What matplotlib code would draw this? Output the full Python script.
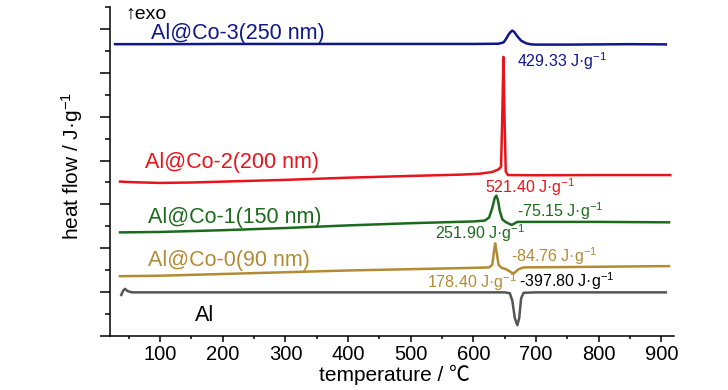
import matplotlib
matplotlib.use("Agg")
import matplotlib.pyplot as plt
from matplotlib.ticker import MultipleLocator

plt.rcParams['font.family'] = ['Liberation Sans', 'DejaVu Sans']
plt.rcParams['mathtext.fontset'] = 'custom'
plt.rcParams['mathtext.rm'] = 'Liberation Sans'
plt.rcParams['mathtext.it'] = 'Liberation Sans'
plt.rcParams['mathtext.default'] = 'regular'

# ---- data (temperature in degC, heat flow offset units) ----
t_co3 = [28, 100, 200, 300, 400, 500, 600, 640, 648, 652, 656, 660, 662, 665, 670, 676, 684, 692, 700, 750, 800, 850, 907]
y_co3 = [6.66, 6.66, 6.665, 6.665, 6.665, 6.665, 6.665, 6.67, 6.70, 6.78, 6.88, 6.95, 6.97, 6.94, 6.84, 6.74, 6.68, 6.655, 6.65, 6.65, 6.655, 6.66, 6.655]

t_co2 = [36, 60, 100, 150, 200, 300, 400, 500, 580, 610, 630, 640, 644, 646, 647.8, 649.5, 651.5, 655, 700, 800, 914]
y_co2 = [3.52, 3.505, 3.49, 3.50, 3.52, 3.56, 3.61, 3.65, 3.68, 3.70, 3.74, 3.80, 3.86, 5.0, 6.37, 5.0, 3.75, 3.67, 3.665, 3.67, 3.67]

t_co1 = [36, 100, 200, 300, 400, 500, 600, 618, 625, 630, 634, 636.5, 639, 642, 646, 650, 655, 661, 665, 670, 700, 800, 912]
y_co1 = [2.36, 2.37, 2.41, 2.46, 2.52, 2.57, 2.61, 2.63, 2.70, 2.92, 3.15, 3.20, 3.10, 2.85, 2.66, 2.61, 2.57, 2.53, 2.56, 2.60, 2.60, 2.60, 2.59]

t_co0 = [36, 100, 200, 300, 400, 500, 600, 625, 630, 633, 634.6, 636.5, 640, 645, 652, 660, 664, 672, 680, 800, 912]
y_co0 = [1.36, 1.37, 1.41, 1.45, 1.49, 1.52, 1.55, 1.56, 1.62, 1.95, 2.11, 1.95, 1.62, 1.55, 1.52, 1.45, 1.42, 1.52, 1.56, 1.575, 1.59]

t_al = [38, 41, 44, 48, 55, 100, 300, 500, 650, 658, 662, 666, 670, 673, 676, 680, 700, 907]
y_al = [0.93, 1.03, 1.07, 1.02, 0.99, 0.99, 0.99, 0.99, 0.99, 0.97, 0.80, 0.40, 0.24, 0.40, 0.85, 0.98, 0.99, 0.99]

series_names = ['Al@Co-3(250 nm)', 'Al@Co-2(200 nm)', 'Al@Co-1(150 nm)', 'Al@Co-0(90 nm)', 'Al']
enthalpy_texts = ['429.33 J·g$^{-1}$', '521.40 J·g$^{-1}$', '-75.15 J·g$^{-1}$', '251.90 J·g$^{-1}$',
                  '-84.76 J·g$^{-1}$', '178.40 J·g$^{-1}$', '-397.80 J·g$^{-1}$']
x_ticks = [100, 200, 300, 400, 500, 600, 700, 800, 900]

c_blue = '#10168c'
c_red = '#e8141b'
c_green = '#1c6b1c'
c_gold = '#b38b34'
c_grey = '#555555'

fig = plt.figure(figsize=(7.28, 3.9), dpi=100)
ax = fig.add_axes([110/728, 1-335.7/390, 564/728, (335.7-7.4)/390])

lw = 1.8
ax.plot(t_co3, y_co3, color=c_blue, lw=lw)
ax.plot(t_co2, y_co2, color=c_red, lw=lw)
ax.plot(t_co1, y_co1, color=c_green, lw=lw)
ax.plot(t_co0, y_co0, color=c_gold, lw=lw)
ax.plot(t_al, y_al, color=c_grey, lw=lw)

ax.set_xlim(20, 920)
ax.set_ylim(0, 7.5)
ax.xaxis.set_major_locator(MultipleLocator(100))
ax.xaxis.set_minor_locator(MultipleLocator(50))
ax.set_xticks(x_ticks)
ax.yaxis.set_major_locator(MultipleLocator(1))
ax.yaxis.set_minor_locator(MultipleLocator(0.5))
ax.set_yticklabels([])
for s in ['top', 'right']:
    ax.spines[s].set_visible(False)
for s in ['left', 'bottom']:
    ax.spines[s].set_linewidth(1.1)
ax.tick_params(axis='x', which='major', length=4.5, width=1.1, labelsize=14.5, pad=2.5)
ax.tick_params(axis='x', which='minor', length=2.2, width=1.1)
ax.tick_params(axis='y', which='major', length=7, width=1.1)
ax.tick_params(axis='y', which='minor', length=3.5, width=1.1)

ax.set_xlabel('temperature / ℃', fontsize=15, family=['Liberation Sans', 'Noto Sans CJK SC', 'DejaVu Sans'])
ax.xaxis.set_label_coords(0.505, -0.088)
ax.xaxis.label.set_va('top')
ax.set_ylabel('heat flow / J·g$^{-1}$', fontsize=15)
ax.yaxis.set_label_coords(-0.068, 0.517)
ax.yaxis.label.set_va('center')

fs_lab = 15.5
ax.text(85.6, 6.775, series_names[0], color=c_blue, fontsize=fs_lab, va='baseline')
ax.text(76, 3.836, series_names[1], color=c_red, fontsize=fs_lab, va='baseline')
ax.text(81, 2.58, series_names[2], color=c_green, fontsize=fs_lab, va='baseline')
ax.text(81, 1.59, series_names[3], color=c_gold, fontsize=fs_lab, va='baseline')
ax.text(156, 0.335, series_names[4], color='black', fontsize=fs_lab, va='baseline')

fs_a = 11.5
ax.text(669, 6.14, enthalpy_texts[0], color=c_blue, fontsize=fs_a, va='baseline')
ax.text(618, 3.25, enthalpy_texts[1], color=c_red, fontsize=fs_a, va='baseline')
ax.text(670, 2.72, enthalpy_texts[2], color=c_green, fontsize=fs_a, va='baseline')
ax.text(538, 2.20, enthalpy_texts[3], color=c_green, fontsize=fs_a, va='baseline')
ax.text(660, 1.69, enthalpy_texts[4], color=c_gold, fontsize=fs_a, va='baseline')
ax.text(526.6, 1.10, enthalpy_texts[5], color=c_gold, fontsize=fs_a, va='baseline')
ax.text(673, 1.105, enthalpy_texts[6], color='black', fontsize=fs_a, va='baseline')

ax.text(45, 7.25, '↑exo', color='black', fontsize=14, va='baseline',
        family=['Liberation Sans', 'DejaVu Sans'])

fig.savefig('out.png', dpi=100)
